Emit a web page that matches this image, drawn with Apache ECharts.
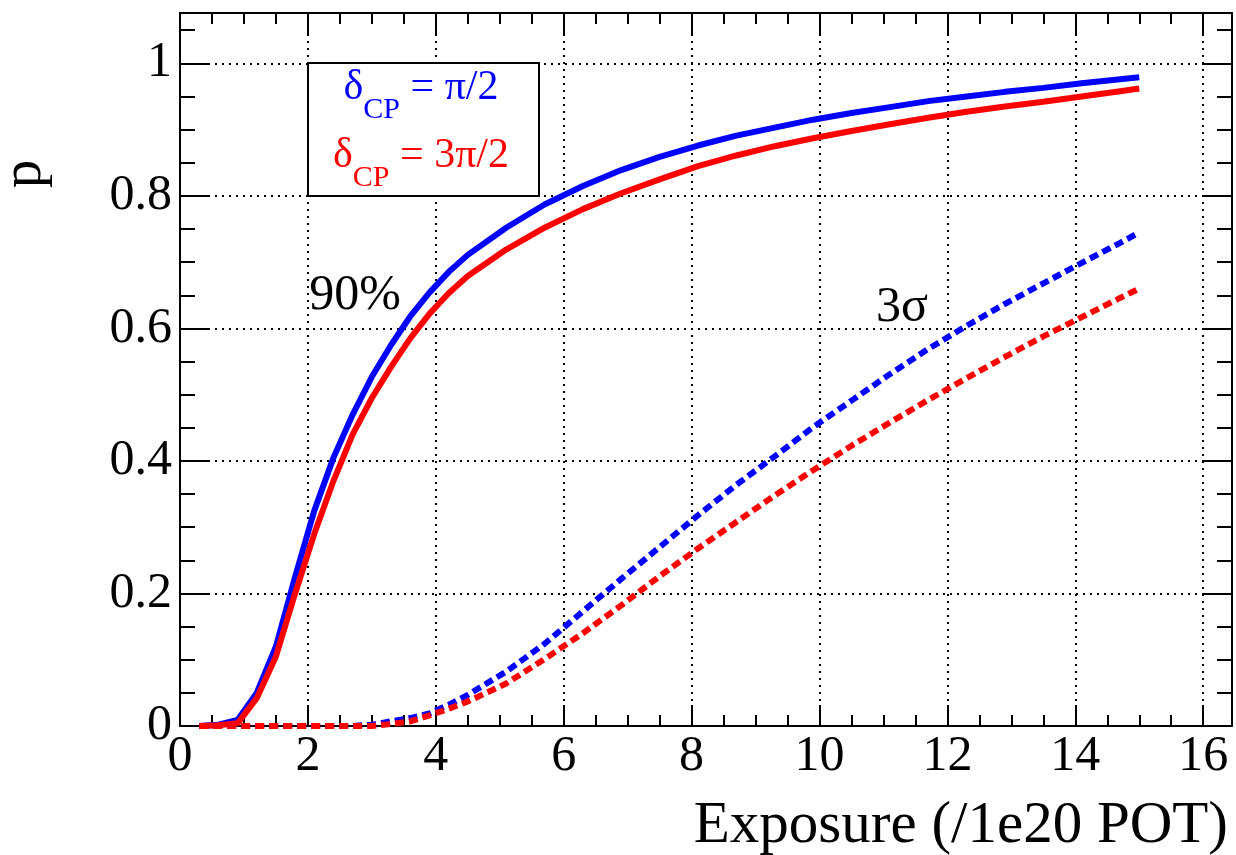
<!DOCTYPE html>
<html>
<head>
<meta charset="utf-8">
<title>p vs exposure</title>
<script src="https://cdn.jsdelivr.net/npm/echarts@6.0.0/dist/echarts.min.js"></script>
<style>
  html, body { margin: 0; padding: 0; background: #fff; }
  #chart-main { width: 1236px; height: 855px; }
</style>
</head>
<body>
<div id="chart-main"></div>
<script>
// 曝光量 (/1e20 POT)
var exposure = [0.3, 0.6, 0.9, 1.2, 1.5, 1.8, 2.1, 2.4, 2.7, 3.0, 3.3, 3.6, 3.9, 4.2, 4.5,
  5.1, 5.7, 6.3, 6.9, 7.5, 8.1, 8.7, 9.3, 9.9, 10.5, 11.1, 11.7, 12.3, 12.9, 13.5, 14.1, 14.7, 15.0];

// 90% 曲线
var p90HalfPi = [0.0, 0.002, 0.009, 0.05, 0.12, 0.225, 0.325, 0.405, 0.470, 0.527, 0.575, 0.618, 0.654, 0.685, 0.711,
  0.752, 0.787, 0.815, 0.839, 0.859, 0.876, 0.891, 0.903, 0.915, 0.925, 0.934, 0.943, 0.950, 0.957, 0.963, 0.970, 0.976, 0.979];
var p90ThreeHalfPi = [0.0, 0.001, 0.004, 0.042, 0.105, 0.20, 0.29, 0.37, 0.44, 0.495, 0.542, 0.585, 0.622, 0.653, 0.679,
  0.719, 0.752, 0.780, 0.804, 0.825, 0.845, 0.861, 0.875, 0.887, 0.898, 0.908, 0.918, 0.927, 0.935, 0.942, 0.950, 0.958, 0.962];

// 3σ 曲线
var p3sHalfPi = [0, 0, 0, 0, 0, 0, 0, 0, 0, 0.002, 0.007, 0.012, 0.019, 0.032, 0.047,
  0.082, 0.124, 0.173, 0.222, 0.270, 0.318, 0.364, 0.407, 0.451, 0.491, 0.531, 0.569, 0.604, 0.637, 0.668, 0.699, 0.729, 0.745];
var p3sThreeHalfPi = [0, 0, 0, 0, 0, 0, 0, 0, 0, 0, 0.003, 0.007, 0.016, 0.026, 0.037,
  0.064, 0.101, 0.140, 0.182, 0.226, 0.268, 0.308, 0.348, 0.386, 0.423, 0.458, 0.492, 0.525, 0.557, 0.588, 0.617, 0.646, 0.660];

var xTitle = 'Exposure (/1e20 POT)';
var yTitle = 'p';

var serif = 'Liberation Serif';
var BLUE = '#0000ff';
var RED = '#ff0000';

function pairs(ys) {
  return exposure.map(function (x, i) { return [x, ys[i]]; });
}

// 坐标轴（四边都有刻度）
function makeAxis(isX, position, showLabel) {
  return {
    type: 'value',
    position: position,
    min: 0,
    max: isX ? 16.45 : 1.076,
    interval: isX ? 2 : 0.2,
    axisLine: { show: true, onZero: false, lineStyle: { color: '#000', width: 2 } },
    axisTick: { show: true, inside: true, length: isX ? 21 : 30, lineStyle: { color: '#000', width: 2 } },
    minorTick: { show: true, splitNumber: 4, length: isX ? 11 : 15, lineStyle: { color: '#000', width: 2 } },
    axisLabel: {
      show: showLabel, showMaxLabel: false, color: '#000',
      fontFamily: serif, fontSize: 50, margin: isX ? 6 : 8
    },
    splitLine: { show: showLabel, lineStyle: { color: '#000', width: 2, type: [2, 5] } },
    minorSplitLine: { show: false }
  };
}

function lineSeries(name, ys, color, dashed) {
  return {
    name: name,
    type: 'line',
    data: pairs(ys),
    showSymbol: false,
    smooth: false,
    clip: true,
    lineStyle: { color: color, width: 6, type: dashed ? [9, 5] : 'solid', cap: 'butt' },
    silent: true
  };
}

// 图例文字（下标 CP）
function legendText(y, label, color) {
  return {
    type: 'text', x: 421, y: y, z: 21,
    style: {
      text: '{m|δ}{s|CP}{m| = ' + label + '}', align: 'center', verticalAlign: 'top',
      rich: {
        m: { fontFamily: serif, fontSize: 42, lineHeight: 44, verticalAlign: 'top', fill: color },
        s: { fontFamily: serif, fontSize: 30, lineHeight: 30, padding: [28, 0, 0, 0], verticalAlign: 'top', fill: color }
      }
    }
  };
}

var chart = echarts.init(document.getElementById('chart-main'));
var option = {
  animation: false,
  backgroundColor: '#fff',
  grid: { left: 180, right: 4, top: 13, bottom: 129, show: false },
  xAxis: [makeAxis(true, 'bottom', true), makeAxis(true, 'top', false)],
  yAxis: [makeAxis(false, 'left', true), makeAxis(false, 'right', false)],
  series: [
    lineSeries('90% π/2', p90HalfPi, BLUE, false),
    lineSeries('90% 3π/2', p90ThreeHalfPi, RED, false),
    lineSeries('3σ π/2', p3sHalfPi, BLUE, true),
    lineSeries('3σ 3π/2', p3sThreeHalfPi, RED, true)
  ],
  graphic: [
    // 坐标轴标题
    {
      type: 'text', x: 1228, y: 826, z: 10,
      style: { text: xTitle, fontFamily: serif, fontSize: 59, fill: '#000', align: 'right', verticalAlign: 'middle' }
    },
    {
      type: 'text', x: 25, y: 174, rotation: Math.PI / 2, z: 10,
      style: { text: yTitle, fontFamily: serif, fontSize: 57, fill: '#000', align: 'center', verticalAlign: 'middle' }
    },
    // 曲线标注
    {
      type: 'text', x: 355, y: 296, z: 10,
      style: { text: '90%', fontFamily: serif, fontSize: 50, fill: '#000', align: 'center', verticalAlign: 'middle' }
    },
    {
      type: 'text', x: 902, y: 308, z: 10,
      style: { text: '3σ', fontFamily: serif, fontSize: 50, fill: '#000', align: 'center', verticalAlign: 'middle' }
    },
    // 图例框
    {
      type: 'rect', z: 20,
      shape: { x: 308, y: 63, width: 231, height: 133 },
      style: { fill: '#fff', stroke: '#000', lineWidth: 2 }
    },
    legendText(67, 'π/2', BLUE),
    legendText(135, '3π/2', RED)
  ]
};
chart.setOption(option);
</script>
</body>
</html>
